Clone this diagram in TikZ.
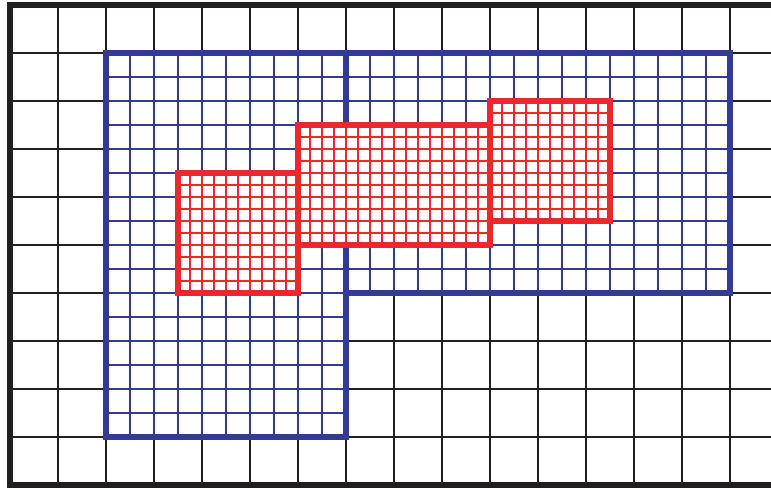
\documentclass[tikz,border=0pt]{standalone}
\usepackage{tikz}

\definecolor{gridblack}{RGB}{35,31,32}
\definecolor{patchblue}{RGB}{50,58,150}
\definecolor{patchred}{RGB}{237,40,45}

\begin{document}
\begin{tikzpicture}[
  coarse/.style={draw=gridblack, line width=1.2pt},
  frame/.style={draw=gridblack, line width=3pt},
  levelone/.style={draw=patchblue, line width=0.9pt},
  leveltwo/.style={draw=patchred, line width=0.8pt},
  bluebox/.style={draw=patchblue, line width=3pt},
  redbox/.style={draw=patchred, line width=3.2pt}
]
\useasboundingbox (-0.208,-0.042) rectangle (15.854,10.104);
\clip (-0.208,-0.042) rectangle (15.854,10.104);

% base grid
\draw[coarse] (0,0) grid (16,10);
\draw[frame] (16,10) -- (0,10) -- (0,0) -- (16,0);

% level 1 patches
\foreach \xa/\ya/\xb/\yb in {2/1/7/9, 7/4/15/9} {
  \fill[white] (\xa,\ya) rectangle (\xb,\yb);
  \draw[levelone, step=0.5] (\xa,\ya) grid (\xb,\yb);
  \draw[bluebox] (\xa,\ya) rectangle (\xb,\yb);
}

% level 2 patches
\foreach \xa/\ya/\xb/\yb in {3.5/4/6/6.5, 6/5/10/7.5, 10/5.5/12.5/8} {
  \fill[white] (\xa,\ya) rectangle (\xb,\yb);
  \draw[leveltwo, step=0.25] (\xa,\ya) grid (\xb,\yb);
  \draw[redbox] (\xa,\ya) rectangle (\xb,\yb);
}

\end{tikzpicture}
\end{document}
